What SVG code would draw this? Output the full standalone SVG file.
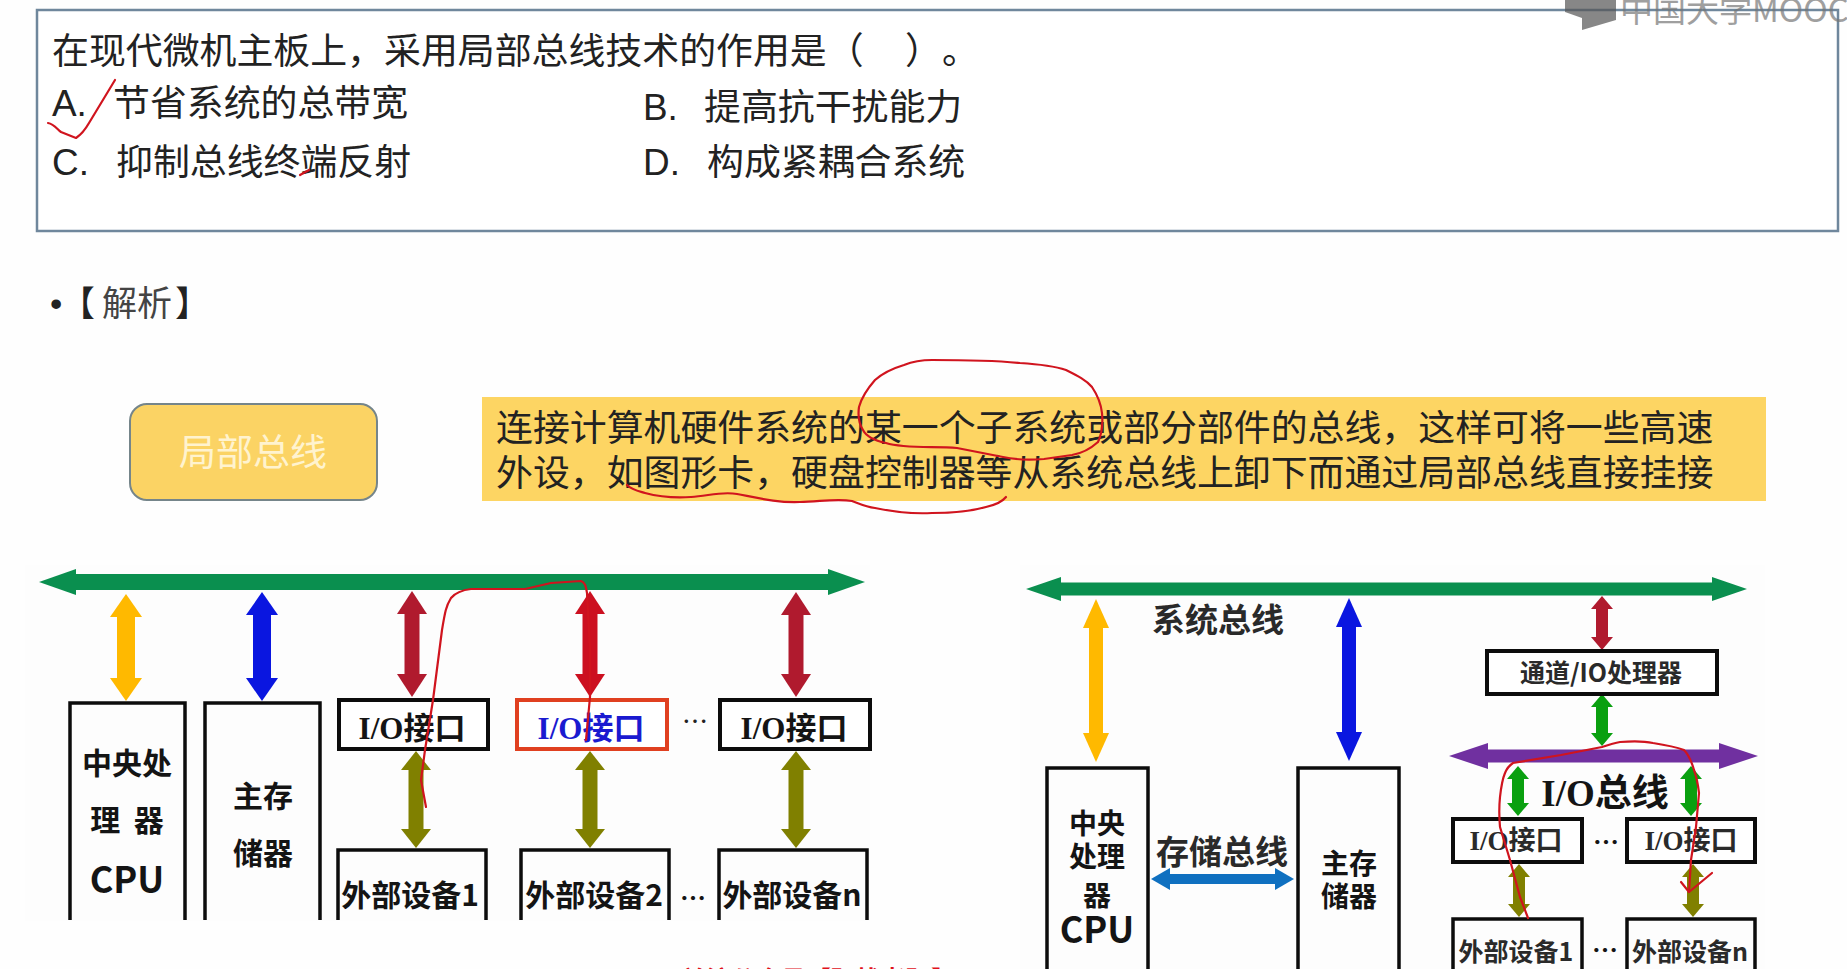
<svg xmlns="http://www.w3.org/2000/svg" width="1847" height="969" viewBox="0 0 1847 969">
<style>
text{font-family:"Noto Sans CJK SC","Noto Sans",sans-serif;}
.q{font-size:36.9px;fill:#222;}
.q .l{font-family:"Liberation Sans","Noto Sans CJK SC",sans-serif;}
.b{font-weight:700;fill:#141414;text-anchor:middle;}
.io{font-family:"Liberation Serif","Noto Sans CJK SC",serif;}
.box{fill:#fff;stroke:#0c0c0c;stroke-width:4;}
.open{fill:none;stroke:#0c0c0c;stroke-width:3.5;}
.ink{fill:none;stroke:#d0141e;stroke-width:2.2;stroke-linecap:round;stroke-linejoin:round;}
.c{fill:none;}
.g{stroke:#0a8f4f;stroke-width:16;marker-start:url(#mg);marker-end:url(#mg);}
.g2{stroke:#0a8f4f;stroke-width:13;marker-start:url(#mg2);marker-end:url(#mg2);}
.y{stroke:#ffb900;stroke-width:18;marker-start:url(#my);marker-end:url(#my);}
.y2{stroke:#ffb900;stroke-width:14;marker-start:url(#my2);marker-end:url(#my2);}
.bl{stroke:#0a16e0;stroke-width:18;marker-start:url(#mb);marker-end:url(#mb);}
.bl2{stroke:#0a16e0;stroke-width:14;marker-start:url(#mb2);marker-end:url(#mb2);}
.dr{stroke:#b01a2e;stroke-width:15;marker-start:url(#md);marker-end:url(#md);}
.dr2{stroke:#b01a2e;stroke-width:12;marker-start:url(#md2);marker-end:url(#md2);}
.r{stroke:#cc1020;stroke-width:15;marker-start:url(#mr);marker-end:url(#mr);}
.o{stroke:#808000;stroke-width:15;marker-start:url(#mo);marker-end:url(#mo);}
.o2{stroke:#808000;stroke-width:12;marker-start:url(#mo2);marker-end:url(#mo2);}
.gg{stroke:#0aa010;stroke-width:12;marker-start:url(#mgg);marker-end:url(#mgg);}
.p{stroke:#7030a0;stroke-width:13;marker-start:url(#mp);marker-end:url(#mp);}
.h{stroke:#0f70c0;stroke-width:10;marker-start:url(#mh);marker-end:url(#mh);}
</style>
<defs>
<marker id="mg" markerUnits="userSpaceOnUse" orient="auto-start-reverse" markerWidth="38" markerHeight="26" refX="1" refY="13" overflow="visible"><path d="M0,0L37,13L0,26z" fill="#0a8f4f"/></marker>
<marker id="mg2" markerUnits="userSpaceOnUse" orient="auto-start-reverse" markerWidth="36" markerHeight="24" refX="1" refY="12" overflow="visible"><path d="M0,0L35,12L0,24z" fill="#0a8f4f"/></marker>
<marker id="my" markerUnits="userSpaceOnUse" orient="auto-start-reverse" markerWidth="24" markerHeight="32" refX="1" refY="16" overflow="visible"><path d="M0,0L23,16L0,32z" fill="#ffb900"/></marker>
<marker id="my2" markerUnits="userSpaceOnUse" orient="auto-start-reverse" markerWidth="30" markerHeight="26" refX="1" refY="13" overflow="visible"><path d="M0,0L29,13L0,26z" fill="#ffb900"/></marker>
<marker id="mb" markerUnits="userSpaceOnUse" orient="auto-start-reverse" markerWidth="24" markerHeight="32" refX="1" refY="16" overflow="visible"><path d="M0,0L23,16L0,32z" fill="#0a16e0"/></marker>
<marker id="mb2" markerUnits="userSpaceOnUse" orient="auto-start-reverse" markerWidth="30" markerHeight="26" refX="1" refY="13" overflow="visible"><path d="M0,0L29,13L0,26z" fill="#0a16e0"/></marker>
<marker id="md" markerUnits="userSpaceOnUse" orient="auto-start-reverse" markerWidth="24" markerHeight="30" refX="1" refY="15" overflow="visible"><path d="M0,0L23,15L0,30z" fill="#b01a2e"/></marker>
<marker id="md2" markerUnits="userSpaceOnUse" orient="auto-start-reverse" markerWidth="14" markerHeight="22" refX="1" refY="11" overflow="visible"><path d="M0,0L13,11L0,22z" fill="#b01a2e"/></marker>
<marker id="mr" markerUnits="userSpaceOnUse" orient="auto-start-reverse" markerWidth="24" markerHeight="30" refX="1" refY="15" overflow="visible"><path d="M0,0L23,15L0,30z" fill="#cc1020"/></marker>
<marker id="mo" markerUnits="userSpaceOnUse" orient="auto-start-reverse" markerWidth="20" markerHeight="30" refX="1" refY="15" overflow="visible"><path d="M0,0L19,15L0,30z" fill="#808000"/></marker>
<marker id="mo2" markerUnits="userSpaceOnUse" orient="auto-start-reverse" markerWidth="14" markerHeight="22" refX="1" refY="11" overflow="visible"><path d="M0,0L13,11L0,22z" fill="#808000"/></marker>
<marker id="mgg" markerUnits="userSpaceOnUse" orient="auto-start-reverse" markerWidth="14" markerHeight="22" refX="1" refY="11" overflow="visible"><path d="M0,0L13,11L0,22z" fill="#0aa010"/></marker>
<marker id="mp" markerUnits="userSpaceOnUse" orient="auto-start-reverse" markerWidth="40" markerHeight="26" refX="1" refY="13" overflow="visible"><path d="M0,0L39,13L0,26z" fill="#7030a0"/></marker>
<marker id="mh" markerUnits="userSpaceOnUse" orient="auto-start-reverse" markerWidth="20" markerHeight="22" refX="1" refY="11" overflow="visible"><path d="M0,0L19,11L0,22z" fill="#0f70c0"/></marker>
</defs>

<rect width="1847" height="969" fill="#fefefe"/>
<rect x="25" y="565" width="845" height="356" fill="#fdfdfd"/>
<rect x="1020" y="565" width="745" height="404" fill="#fdfdfd"/>

<g id="question">
<rect x="37" y="10" width="1801" height="221" fill="#fff" stroke="#6f879c" stroke-width="2.5"/>
<text class="q" y="64"><tspan x="52">在现代微机主板上，采用局部总线技术的作用是（</tspan><tspan x="905">）</tspan><tspan x="942">。</tspan></text>
<text class="q" y="116"><tspan class="l" x="52">A.</tspan><tspan x="113">节省系统的总带宽</tspan></text>
<text class="q" y="120"><tspan class="l" x="643">B.</tspan><tspan x="704">提高抗干扰能力</tspan></text>
<text class="q" y="175"><tspan class="l" x="52">C.</tspan><tspan x="116">抑制总线终端反射</tspan></text>
<text class="q" y="175"><tspan class="l" x="643">D.</tspan><tspan x="707">构成紧耦合系统</tspan></text>
</g>

<g id="logo" opacity="0.7">
<path d="M1565,0V12L1582,18V30L1616,20V0z" fill="#555"/>
<text x="1620" y="22" font-size="33" fill="#777">中国大学MOOC</text>
</g>

<g id="analysis"><text y="316" font-size="35" fill="#444"><tspan x="50" font-family="Liberation Sans" fill="#222">•</tspan><tspan x="60" fill="#222">【</tspan><tspan x="102">解析</tspan><tspan x="175" fill="#222">】</tspan></text></g>

<g id="local-bus">
<rect x="130" y="404" width="247" height="96" rx="17" fill="#fbd364" stroke="#75858a" stroke-width="2"/>
<text x="253" y="466" font-size="37" text-anchor="middle" fill="#fff3cf">局部总线</text>
</g>
<g id="definition">
<rect x="482" y="397" width="1284" height="104" fill="#fdd563"/>
<text class="q" x="496" y="441" fill="#111">连接计算机硬件系统的某一个子系统或部分部件的总线，这样可将一些高速</text>
<text class="q" x="496" y="486" fill="#111">外设，如图形卡，硬盘控制器等从系统总线上卸下而通过局部总线直接挂接</text>
</g>

<g id="connectors">
<line class="c g" x1="75" y1="582" x2="829" y2="582"/>
<line class="c y" x1="126" y1="616" x2="126" y2="679"/>
<line class="c bl" x1="262" y1="614" x2="262" y2="679"/>
<line class="c dr" x1="412" y1="613" x2="412" y2="675"/>
<line class="c r" x1="590" y1="613" x2="590" y2="675"/>
<line class="c dr" x1="796" y1="614" x2="796" y2="675"/>
<line class="c o" x1="416" y1="769" x2="416" y2="830"/>
<line class="c o" x1="590" y1="769" x2="590" y2="830"/>
<line class="c o" x1="796" y1="769" x2="796" y2="830"/>
<line class="c g2" x1="1060" y1="589" x2="1713" y2="589"/>
<line class="c y2" x1="1096" y1="627" x2="1096" y2="734"/>
<line class="c bl2" x1="1349" y1="626" x2="1349" y2="733"/>
<line class="c dr2" x1="1602" y1="608" x2="1602" y2="638"/>
<line class="c gg" x1="1602" y1="706" x2="1602" y2="734"/>
<line class="c p" x1="1487" y1="756" x2="1720" y2="756"/>
<line class="c gg" x1="1518" y1="778" x2="1518" y2="804"/>
<line class="c gg" x1="1691" y1="778" x2="1691" y2="804"/>
<line class="c o2" x1="1519" y1="876" x2="1519" y2="905"/>
<line class="c o2" x1="1693" y1="876" x2="1693" y2="905"/>
<line class="c h" x1="1169" y1="879" x2="1276" y2="879"/>
</g>

<g id="l-cpu"><path class="open" d="M70,920V703H185V920"/>
<text class="b" x="127" y="774" font-size="30">中央处</text>
<text class="b" x="127" y="831" font-size="30" xml:space="preserve">理  器</text>
<text class="b" x="127" y="893" font-size="36">CPU</text></g>
<g id="l-mem"><path class="open" d="M205,920V703H320V920"/>
<text class="b" x="263" y="807" font-size="30">主存</text>
<text class="b" x="263" y="864" font-size="30">储器</text></g>
<g id="l-io1"><rect class="box" x="339" y="700" width="149" height="49"/>
<text class="b" x="412" y="739" font-size="31"><tspan class="io">I/O</tspan>接口</text></g>
<g id="l-io2"><rect class="box" x="517" y="700" width="150" height="49" style="stroke:#e04020"/>
<text class="b" x="591" y="739" font-size="31" style="fill:#1a1ad0"><tspan class="io">I/O</tspan>接口</text></g>
<text x="695" y="731" font-size="26" text-anchor="middle" fill="#222">…</text>
<g id="l-io3"><rect class="box" x="720" y="700" width="150" height="49"/>
<text class="b" x="794" y="739" font-size="31"><tspan class="io">I/O</tspan>接口</text></g>
<g id="l-dev1"><path class="open" d="M338,920V850H486V920"/>
<text class="b" x="410" y="906" font-size="30">外部设备1</text></g>
<g id="l-dev2"><path class="open" d="M521,920V850H669V920"/>
<text class="b" x="594" y="906" font-size="30">外部设备2</text></g>
<text class="b" x="693" y="908" font-size="26">…</text>
<g id="l-devn"><path class="open" d="M719,920V850H867V920"/>
<text class="b" x="792" y="906" font-size="30">外部设备n</text></g>

<text class="b" x="1218" y="632" font-size="33" style="fill:#2a2a2a">系统总线</text>
<g id="r-cpu"><path class="open" d="M1047,969V768H1148V969"/>
<text class="b" x="1097" y="834" font-size="28">中央</text>
<text class="b" x="1097" y="867" font-size="28">处理</text>
<text class="b" x="1097" y="906" font-size="28">器</text>
<text class="b" x="1097" y="943" font-size="36">CPU</text></g>
<g id="r-mem"><path class="open" d="M1298,969V768H1399V969"/>
<text class="b" x="1349" y="874" font-size="28">主存</text>
<text class="b" x="1349" y="907" font-size="28">储器</text></g>
<text class="b" x="1222" y="864" font-size="33" style="fill:#2a2a2a">存储总线</text>
<g id="r-channel"><rect class="box" x="1487" y="651" width="230" height="43"/>
<text class="b" x="1601" y="682" font-size="25" style="fill:#2a2a2a">通道/IO处理器</text></g>
<text class="b" x="1605" y="806" font-size="37"><tspan class="io">I/O</tspan>总线</text>
<g id="r-io1"><rect class="box" x="1453" y="819" width="129" height="43"/>
<text class="b" x="1516" y="850" font-size="27" style="fill:#2a2a2a"><tspan class="io">I/O</tspan>接口</text></g>
<text class="b" x="1606" y="852" font-size="26">…</text>
<g id="r-io2"><rect class="box" x="1627" y="819" width="128" height="43"/>
<text class="b" x="1691" y="850" font-size="27" style="fill:#2a2a2a"><tspan class="io">I/O</tspan>接口</text></g>
<g id="r-dev1"><path class="open" d="M1453,969V919H1582V969"/>
<text class="b" x="1516" y="961" font-size="25" style="fill:#2a2a2a">外部设备1</text></g>
<text class="b" x="1605" y="960" font-size="26">…</text>
<g id="r-devn"><path class="open" d="M1627,969V919H1755V969"/>
<text class="b" x="1690" y="961" font-size="25" style="fill:#2a2a2a">外部设备n</text></g>

<text x="681" y="989" font-size="25" font-weight="700" fill="#e0101a">关注公众号【研栈考研】</text>

<g id="ink">
<path class="ink" d="M48,123C54,124 57,129 61,132L76,138C82,134 85,130 89,123L115,80"/>
<path class="ink" d="M300,175L309,170"/>
<path class="ink" d="M1098,442C1088,451 1078,454 1072,455L1044,459C1030,460 1016,460 1003,457L957,448C935,446 905,449 886,443C872,440 866,436 863,430C858,422 858,414 859,407C862,396 868,388 875,380C884,372 894,368 904,365C914,361 924,360 932,360C960,360 990,360 1020,363C1036,364 1054,366 1066,370C1078,376 1086,380 1092,387C1098,396 1101,404 1102,413C1103,424 1102,434 1098,442"/>
<path class="ink" d="M627,485C632,490 638,491 645,493C660,497 676,498 691,497C708,496 722,491 737,494C758,498 778,503 800,502C818,502 836,498 852,501C860,504 866,507 875,508C894,512 914,514 932,513C950,513 972,511 986,507C995,505 1002,502 1006,497"/>
<path class="ink" d="M426,807L421,780L425,750L433,700L442,630C445,612 446,606 451,598C456,592 462,590 471,589L525,589L551,583L581,581C586,583 586,588 587,593L590,650L590,697L586,740"/>
<path class="ink" d="M1528,918L1520,897L1510,860L1500,827C1499,816 1499,807 1500,797C1501,788 1502,780 1505,773C1507,768 1510,765 1513,763L1561,755L1602,747C1608,745 1614,743 1620,742C1632,741 1644,741 1653,743C1666,745 1676,747 1684,750C1690,756 1692,763 1694,770C1697,778 1698,785 1699,793L1696,827L1691,860L1689,892"/>
<path class="ink" d="M1681,882L1689,892L1712,873"/>
</g>
</svg>
